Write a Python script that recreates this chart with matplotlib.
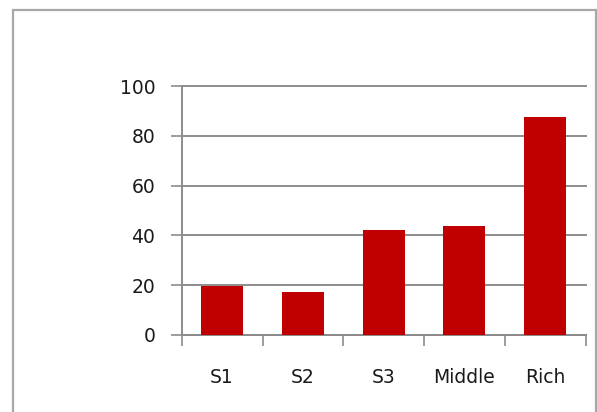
import numpy as np
import matplotlib.pyplot as plt
from matplotlib.patches import Rectangle

# Data
categories = ['S1', 'S2', 'S3', 'Middle', 'Rich']
values = [19.8, 17.3, 42.3, 43.8, 87.4]
yticks = [0, 20, 40, 60, 80, 100]

plt.rcParams['font.family'] = ['DejaVu Sans']

fig = plt.figure(figsize=(5.97, 4.12), dpi=100)
ax = fig.add_axes([0.3044, 0.187, 0.6766, 0.604])

x = np.arange(len(categories))
ax.bar(x, values, width=0.52, color='#C00000', zorder=3)

ax.set_xlim(-0.5, len(categories) - 0.5)
ax.set_ylim(0, 100)

# y axis
ax.set_yticks(yticks)
ax.set_yticklabels([str(v) for v in yticks])
ax.yaxis.grid(True, color='#8c8c8c', linewidth=1.4, zorder=0)
for gl in ax.get_ygridlines():
    gl.set_clip_on(False)
ax.tick_params(axis='y', direction='out', length=8, width=1.2, color='#8c8c8c',
               pad=11, labelsize=13.5, labelcolor='#1a1a1a')

# x axis: labels at centres, tick marks at boundaries
ax.set_xticks(x)
ax.set_xticklabels(categories)
ax.set_xticks(np.arange(-0.5, len(categories)), minor=True)
ax.tick_params(axis='x', which='major', length=0, pad=24, labelsize=13.5, labelcolor='#1a1a1a')
ax.tick_params(axis='x', which='minor', direction='out', length=8, width=1.2, color='#8c8c8c')

for side in ['top', 'right']:
    ax.spines[side].set_visible(False)
for side in ['left', 'bottom']:
    ax.spines[side].set_color('#8c8c8c')
    ax.spines[side].set_linewidth(1.4)

# chart border
fig.patches.append(Rectangle((13 / 597, -0.05), (596 - 13) / 597, 1.05 - 10 / 412,
                             transform=fig.transFigure, fill=False,
                             edgecolor='#a8a8a8', linewidth=1.6))

fig.savefig('out.png', dpi=100)
